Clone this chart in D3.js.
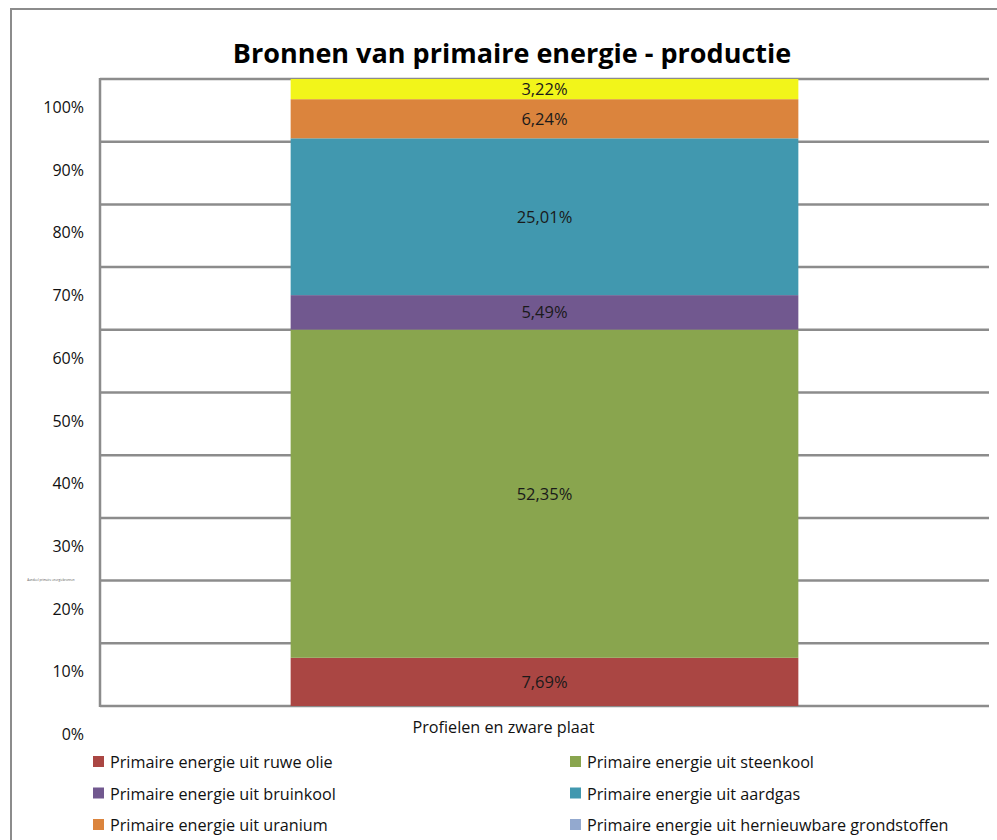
<!DOCTYPE html>
<html>
<head>
<meta charset="utf-8">
<script src="https://cdn.jsdelivr.net/npm/d3@7"></script>
<style>
  body { margin: 0; background: #fff; }
  svg { display: block; font-family: "Open Sans", Lato, sans-serif; }
</style>
</head>
<body>
<div id="chart"></div>
<script>
// Chart data
const categories = ["Profielen en zware plaat"];
const seriesNames = [
  "Primaire energie uit ruwe olie",
  "Primaire energie uit steenkool",
  "Primaire energie uit bruinkool",
  "Primaire energie uit aardgas",
  "Primaire energie uit uranium",
  "Primaire energie uit hernieuwbare grondstoffen",
  "Primaire energie uit overige bronnen"
];
const seriesValues = [7.69, 52.35, 5.49, 25.01, 6.24, 0, 3.22];
const seriesColors = ["#aa4643", "#89a54e", "#71588f", "#4198af", "#db843d", "#93a9cf", "#f2f51a"];
const yTicks = [0, 0.1, 0.2, 0.3, 0.4, 0.5, 0.6, 0.7, 0.8, 0.9, 1];

const W = 997, H = 840;
const plot = {left: 100, right: 989, top: 79, bottom: 706};

const svg = d3.select("#chart")
  .append("svg")
  .attr("width", W)
  .attr("height", H);

// outer chart border
svg.append("rect")
  .attr("x", 11).attr("y", 9)
  .attr("width", 1100).attr("height", 1000)
  .attr("fill", "none")
  .attr("stroke", "#8c8c8c")
  .attr("stroke-width", 2);

// scales
const x = d3.scaleBand().domain(categories).range([plot.left, plot.right]).padding(0.273);
const y = d3.scaleLinear().domain([0, 1]).range([plot.bottom, plot.top]);

// title
svg.append("text")
  .attr("x", 512).attr("y", 63)
  .attr("text-anchor", "middle")
  .style("font-size", "27px")
  .style("font-weight", "bold")
  .text("Bronnen van primaire energie - productie");

// gridlines
svg.append("g")
  .selectAll("line")
  .data(yTicks)
  .enter()
  .append("line")
  .attr("x1", plot.left).attr("x2", plot.right)
  .attr("y1", d => y(d)).attr("y2", d => y(d))
  .attr("stroke", "#8c8c8c")
  .attr("stroke-width", 2.5);

// y axis line
svg.append("line")
  .attr("x1", plot.left).attr("x2", plot.left)
  .attr("y1", plot.top - 1).attr("y2", plot.bottom + 1)
  .attr("stroke", "#8c8c8c")
  .attr("stroke-width", 2.5);

// tick labels (shifted down like the original)
svg.append("g")
  .selectAll("text")
  .data(yTicks)
  .enter()
  .append("text")
  .attr("x", 84)
  .attr("y", d => y(d) + 34)
  .attr("text-anchor", "end")
  .style("font-size", "16px")
  .attr("fill", "#111")
  .text(d => d3.format(".0%")(d));

// tiny axis title
svg.append("text")
  .attr("x", 51).attr("y", 581)
  .attr("text-anchor", "middle")
  .style("font-size", "3px")
  .attr("fill", "#555")
  .text("Aandeel primaire energiebronnen");

// stacked bar
const row = {cat: categories[0]};
seriesNames.forEach((n, i) => row[n] = seriesValues[i] / 100);
const stacked = d3.stack().keys(seriesNames)([row]);

const layers = svg.append("g")
  .selectAll("g")
  .data(stacked)
  .enter()
  .append("g")
  .attr("fill", (d, i) => seriesColors[i]);

layers.selectAll("rect")
  .data(d => d)
  .enter()
  .append("rect")
  .attr("x", d => x(d.data.cat))
  .attr("width", x.bandwidth())
  .attr("y", d => y(d[1]))
  .attr("height", d => y(d[0]) - y(d[1]));

// value labels
svg.append("g")
  .selectAll("text")
  .data(stacked.filter(s => s[0][1] - s[0][0] > 0))
  .enter()
  .append("text")
  .attr("x", d => x(categories[0]) + x.bandwidth() / 2)
  .attr("y", d => y((d[0][0] + d[0][1]) / 2) + 6)
  .attr("text-anchor", "middle")
  .style("font-size", "16.5px")
  .attr("fill", "#1a1a1a")
  .text(d => seriesValues[d.index].toFixed(2).replace(".", ",") + "%");

// category label
svg.append("text")
  .attr("x", x(categories[0]) + x.bandwidth() / 2 - 41)
  .attr("y", 733)
  .attr("text-anchor", "middle")
  .style("font-size", "16.2px")
  .attr("fill", "#111")
  .text(categories[0]);

// legend, two columns (the 7th entry falls outside the visible area)
const legend = svg.append("g")
  .selectAll("g")
  .data(seriesNames.slice(0, 6))
  .enter()
  .append("g")
  .attr("transform", (d, i) => `translate(${i % 2 === 0 ? 93 : 570},${756 + Math.floor(i / 2) * 31.5})`);

legend.append("rect")
  .attr("width", 11).attr("height", 11)
  .attr("fill", (d, i) => seriesColors[i]);

legend.append("text")
  .attr("x", 17).attr("y", 12)
  .style("font-size", "16.2px")
  .attr("fill", "#111")
  .text(d => d);
</script>
</body>
</html>
